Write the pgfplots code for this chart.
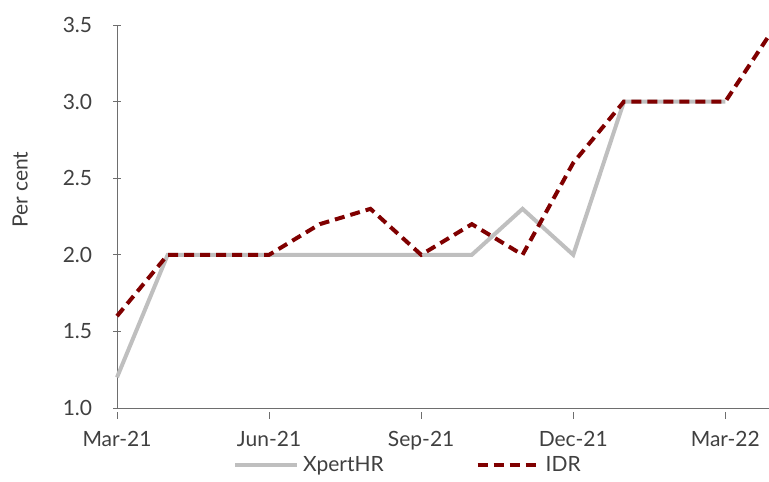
\documentclass[border=0pt]{standalone}
\usepackage{fontspec}
\setmainfont{Lato}
\usepackage{pgfplots}
\pgfplotsset{compat=1.18}
\definecolor{xpertgray}{HTML}{BFBFBF}
\definecolor{idrred}{HTML}{800000}
\definecolor{txtgray}{HTML}{404040}
\definecolor{axgray}{HTML}{6E6E6E}

\begin{document}
\begin{tikzpicture}
\fontsize{10.5}{12}\selectfont
\useasboundingbox (-58.5pt,-36.5pt) rectangle (326pt,204pt);
\begin{axis}[
  scale only axis,
  width=329.5pt,
  height=191.5pt,
  xmin=0, xmax=13,
  ymin=1, ymax=3.5,
  axis lines=left,
  axis line style={axgray,-},
  every tick/.style={axgray},
  major tick length=3.5pt,
  xtick={0,3,6,9,12},
  xticklabels={Mar-21,Jun-21,Sep-21,Dec-21,Mar-22},
  ytick={1,1.5,2,2.5,3,3.5},
  y tick label style={/pgf/number format/fixed, /pgf/number format/fixed zerofill, /pgf/number format/precision=1, xshift=-7pt},
  /pgf/number format/assume math mode=true,
  x tick style={yshift=-3.5pt},
  ticklabel style={font=\fontsize{10.5}{12}\selectfont, text=txtgray},
  xticklabel style={yshift=-6pt},
  ylabel={Per cent},
  ylabel style={font=\fontsize{10.5}{12}\selectfont, text=txtgray, at={(axis description cs:-0.147,0.57)}, anchor=center},
  clip=false,
  legend columns=2,
  legend style={draw=none, fill=none, at={(axis description cs:0.443,-0.149)}, anchor=center,
    font=\fontsize{10.5}{12}\selectfont, text=txtgray,
    /tikz/every even column/.append style={column sep=44pt}},
  legend image code/.code={\draw[#1] plot coordinates {(0pt,0pt) (31pt,0pt)};},
]
\addplot[xpertgray, line width=2pt] coordinates {
  (0,1.2) (1,2.0) (2,2.0) (3,2.0) (4,2.0) (5,2.0) (6,2.0) (7,2.0)
  (8,2.3) (9,2.0) (10,3.0) (11,3.0) (12,3.0)};
\addlegendentry{XpertHR}
\addplot[idrred, line width=2pt, dash pattern=on 5pt off 3pt] coordinates {
  (0,1.6) (1,2.0) (2,2.0) (3,2.0) (4,2.2) (5,2.3) (6,2.0) (7,2.2)
  (8,2.0) (9,2.6) (10,3.0) (11,3.0) (12,3.0) (13,3.5)};
\addlegendentry{IDR}
\end{axis}
\end{tikzpicture}
\end{document}
